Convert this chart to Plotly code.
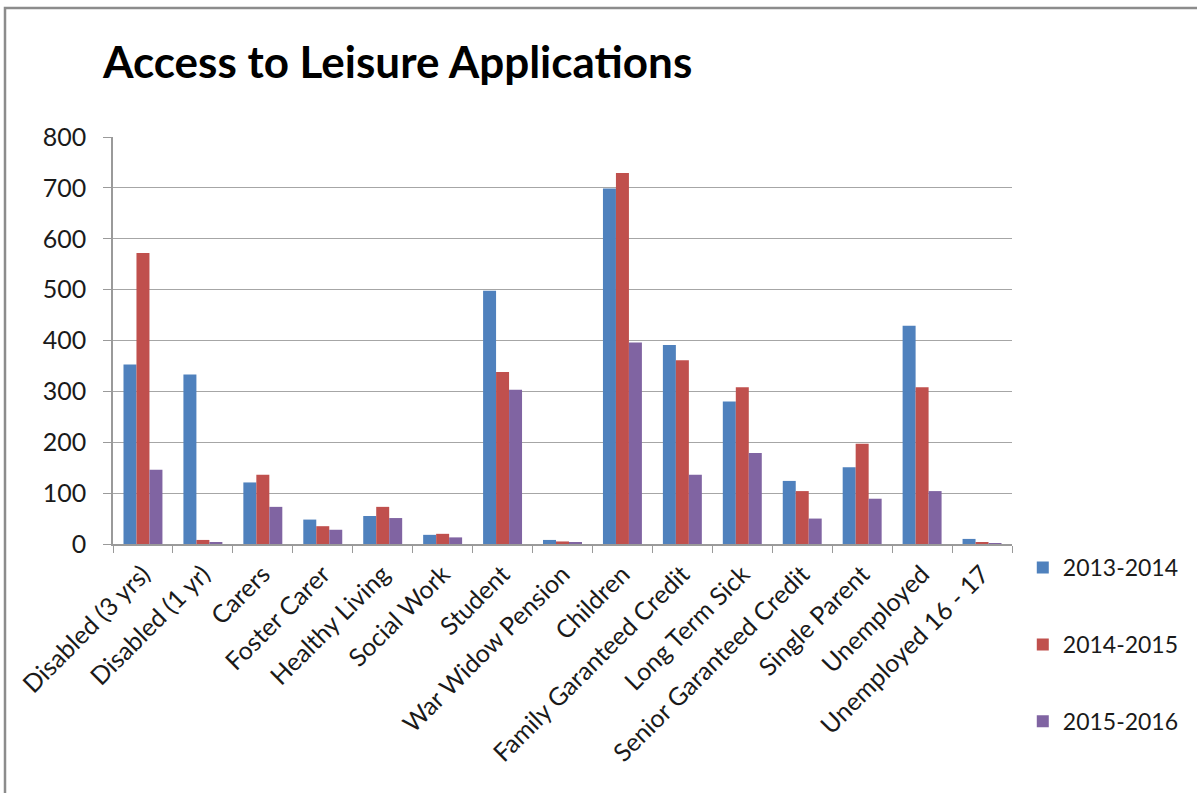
import plotly.graph_objects as go

categories = ["Disabled (3 yrs)", "Disabled (1 yr)", "Carers", "Foster Carer", "Healthy Living",
              "Social Work", "Student", "War Widow Pension", "Children", "Family Garanteed Credit",
              "Long Term Sick", "Senior Garanteed Credit", "Single Parent", "Unemployed", "Unemployed 16 - 17"]
s2013 = [353, 333, 121, 48, 55, 18, 498, 8, 699, 391, 280, 124, 151, 429, 10]
s2014 = [572, 8, 136, 35, 73, 20, 338, 5, 729, 361, 308, 104, 197, 308, 3]
s2015 = [146, 3, 73, 28, 51, 13, 303, 3, 396, 136, 179, 50, 89, 104, 1]
series_names = ["2013-2014", "2014-2015", "2015-2016"]
colors = ["#4F81BD", "#C0504D", "#8064A2"]
y_ticks = [0, 100, 200, 300, 400, 500, 600, 700, 800]

FONT = "Lato"

fig = go.Figure()
for i, (name, vals) in enumerate(zip(series_names, [s2013, s2014, s2015])):
    fig.add_trace(go.Bar(x=categories, y=vals, name=name, marker_color=colors[i],
                         marker_line_width=0, legendgroup=name))

fig.update_layout(
    width=1197, height=793,
    paper_bgcolor="white", plot_bgcolor="white",
    margin=dict(l=113, r=185, t=137, b=249, autoexpand=False),
    barmode="group", bargap=0.35, bargroupgap=0,
    font=dict(family=FONT, color="#1a1a1a", size=20),
    title=dict(text="<b>Access to Leisure Applications</b>", x=103/1197, xanchor="left",
               y=1-63/793, yanchor="middle",
               font=dict(family=FONT, size=44, color="black")),
    legend=dict(x=1.012, y=-0.005, xanchor="left", yanchor="top",
                font=dict(size=23, family=FONT), tracegroupgap=44,
                itemwidth=30, bgcolor="rgba(0,0,0,0)"),
    showlegend=True,
)
fig.update_xaxes(showline=True, linecolor="#9a9a9a", linewidth=1.5, automargin=False,
                 ticks="outside", tickson="boundaries", ticklen=7, tickcolor="#9a9a9a",
                 tickangle=-45, showgrid=False, tickfont=dict(size=25), ticklabelstandoff=4)
fig.update_yaxes(range=[0, 800], tickvals=y_ticks, showline=True, linecolor="#9a9a9a", linewidth=1.5,
                 automargin=False, ticks="outside", ticklen=8, tickcolor="#9a9a9a",
                 showgrid=True, gridcolor="#a6a6a6", gridwidth=1.2, zeroline=False,
                 tickfont=dict(size=25), ticklabelstandoff=12)

fig.add_shape(type="rect", xref="paper", yref="paper",
              x0=(5-113)/899, x1=(1230-113)/899, y0=(544-830)/407, y1=(544-8)/407,
              line=dict(color="#8c8c8c", width=2.5), layer="below")

fig.write_html("out.html", config={"displayModeBar": False},
               post_script="document.body.style.margin='0px';")
